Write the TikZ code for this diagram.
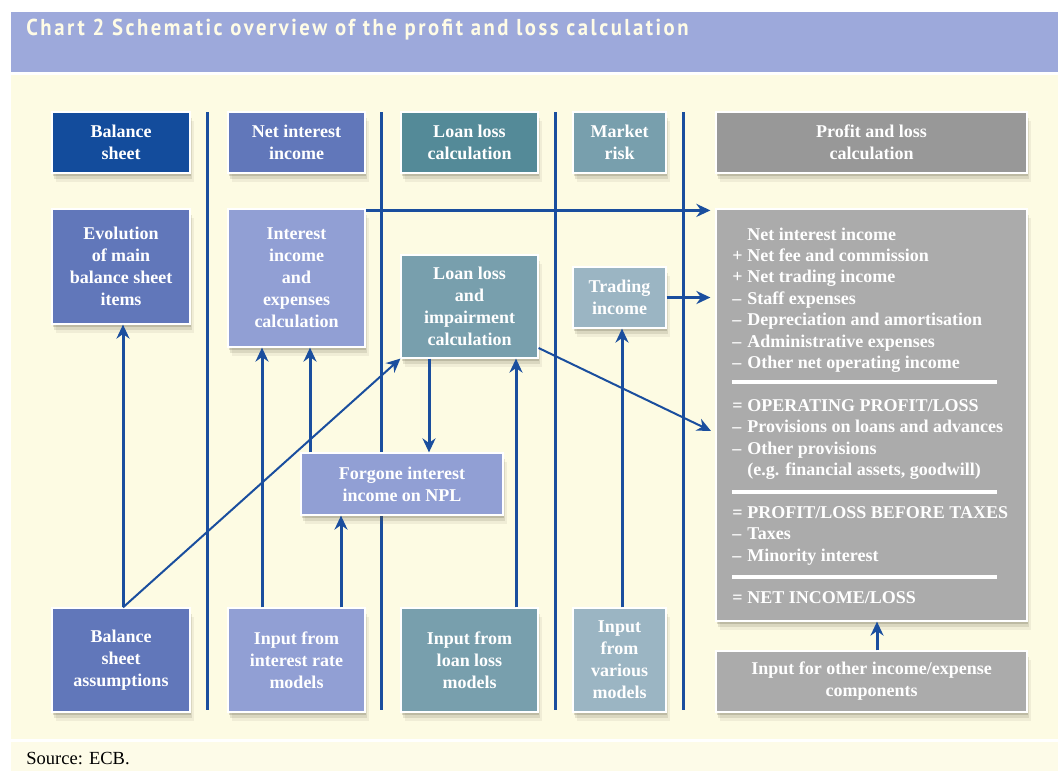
\documentclass[tikz,border=0pt]{standalone}
\usepackage{fontspec}
\setmainfont{Liberation Serif}
\newfontfamily\titlefont[FakeStretch=0.9,LetterSpace=11]{PT Sans}
\usetikzlibrary{shadows,arrows.meta}

\definecolor{ecbline}{HTML}{1A4E9E}
\definecolor{banner}{HTML}{9DA9DB}
\definecolor{cream}{HTML}{FDFBE3}
\definecolor{creamlight}{HTML}{FDFBE8}
\definecolor{titletext}{HTML}{FFFCE6}
\definecolor{bsdark}{HTML}{134C9C}
\definecolor{niimid}{HTML}{6177BA}
\definecolor{niilight}{HTML}{919FD4}
\definecolor{lldark}{HTML}{548A98}
\definecolor{llmid}{HTML}{789FAD}
\definecolor{mrlight}{HTML}{9BB5C3}
\definecolor{pldark}{HTML}{989898}
\definecolor{plmid}{HTML}{ABABAB}
\definecolor{shadowc}{HTML}{5A5540}

\tikzset{
  box/.style={draw=white, line width=0.6pt, text=white, align=center,
    font=\fontsize{9}{11}\selectfont\bfseries, inner sep=0pt,
    general shadow={fill=shadowc, opacity=.08, shadow xshift=2pt, shadow yshift=-4.5pt},
    general shadow={fill=shadowc, opacity=.14, shadow xshift=1.2pt, shadow yshift=-3pt},
    general shadow={fill=shadowc, opacity=.22, shadow xshift=0.5pt, shadow yshift=-1.5pt}},
  arr/.style={ecbline, line width=1.5pt, -{Stealth[length=7pt,width=6.5pt]}},
  col/.style={ecbline, line width=1.5pt},
  pltext/.style={text=white, inner sep=0pt, font=\fontsize{9}{11}\selectfont\bfseries},
}

\begin{document}
\begin{tikzpicture}[x=0.5pt,y=-0.5pt]
  \useasboundingbox (0,0) rectangle (1058,771);
  \fill[white] (0,0) rectangle (1058,771);
  \fill[banner] (11,12) rectangle (1058,72);
  \fill[cream] (11,75) rectangle (1058,739);
  \fill[creamlight] (11,742) rectangle (1058,771);

  % column separators
  \foreach \x in {207,381,555,683}
    \draw[col] (\x,112) -- (\x,710);

  \node[anchor=base west, inner sep=0pt, text=titletext,
    font=\titlefont\fontsize{11.5}{13}\selectfont\bfseries] (title) at (26,35)
    {Chart 2 Schematic overview of the profit and loss calculation};

  % headers
  \node[box, fill=bsdark, minimum width=69pt, minimum height=30.5pt] (bsh) at (121,142.5) {Balance\\sheet};
  \node[box, fill=niimid, minimum width=68.5pt, minimum height=30.5pt] (nih) at (296.5,142.5) {Net interest\\income};
  \node[box, fill=lldark, minimum width=68.5pt, minimum height=30.5pt] (llh) at (469.5,142.5) {Loan loss\\calculation};
  \node[box, fill=llmid, minimum width=46.5pt, minimum height=30.5pt] (mrh) at (619.5,142.5) {Market\\risk};
  \node[box, fill=pldark, minimum width=155.5pt, minimum height=30.5pt] (plh) at (871.5,142.5) {Profit and loss\\calculation};

  % calculation blocks
  \node[box, fill=niimid, minimum width=69pt, minimum height=57.5pt] (evo) at (121,266.5) {Evolution\\of main\\balance sheet\\items};
  \node[box, fill=niilight, minimum width=68.5pt, minimum height=69pt] (iie) at (296.5,278) {Interest\\income\\and\\expenses\\calculation};
  \node[box, fill=llmid, minimum width=68.5pt, minimum height=51.5pt] (lli) at (469.5,306.5) {Loan loss\\and\\impairment\\calculation};
  \node[box, fill=mrlight, minimum width=46.5pt, minimum height=30.5pt] (tri) at (619.5,297.5) {Trading\\income};
  \node[box, fill=plmid, minimum width=155.5pt, minimum height=206pt] (pnl) at (871.5,415) {};
  \node[box, fill=niilight, minimum width=101pt, minimum height=31pt] (fii) at (402,484) {Forgone interest\\income on NPL};

  % inputs
  \node[box, fill=niimid, minimum width=69pt, minimum height=52pt] (bsa) at (121,660) {Balance\\sheet\\assumptions};
  \node[box, fill=niilight, minimum width=68.5pt, minimum height=52pt] (irm) at (296.5,660) {Input from\\interest rate\\models};
  \node[box, fill=llmid, minimum width=68.5pt, minimum height=52pt] (ilm) at (469.5,660) {Input from\\loan loss\\models};
  \node[box, fill=mrlight, minimum width=46.5pt, minimum height=52pt] (ivm) at (619.5,660) {Input\\from\\various\\models};
  \node[box, fill=plmid, minimum width=155.5pt, minimum height=30.5pt] (ioc) at (871.5,681.5) {Input for other income/expense\\components};

  % profit and loss lines
  \foreach \r/\s/\t in {0//{Net interest income}, 1/+/{Net fee and commission},
      2/+/{Net trading income}, 3/--/{Staff expenses},
      4/--/{Depreciation and amortisation}, 5/--/{Administrative expenses},
      6/--/{Other net operating income}, 8/=/{OPERATING PROFIT/LOSS},
      9/--/{Provisions on loans and advances}, 10/--/{Other provisions},
      11//{(e.g. financial assets, goodwill)}, 13/=/{PROFIT/LOSS BEFORE TAXES},
      14/--/{Taxes}, 15/--/{Minority interest}, 17/=/{NET INCOME/LOSS}}
  {
    \node[pltext, anchor=base west] (ps\r) at (732,{240+21.41*\r}) {\s};
    \node[pltext, anchor=base west] (pl\r) at (747,{240+21.41*\r}) {\t};
  }
  \foreach \y in {382,492,577}
    \draw[white, line width=2pt] (732,\y) -- (997,\y);

  % connectors
  \draw[arr] ([xshift=1pt]bsa.north) -- ([xshift=1pt]evo.south);
  \draw[arr, line width=1pt] ([xshift=1pt]bsa.north) -- (lli.south west);
  \draw[arr] ([xshift=-17.25pt]irm.north) -- ([xshift=-17.25pt]iie.south);
  \draw[arr] ([xshift=6.75pt]iie.south |- fii.north) -- ([xshift=6.75pt]iie.south);
  \draw[arr] ([xshift=22.25pt]irm.north) -- ([xshift=22.25pt]irm.north |- fii.south);
  \draw[arr] ([xshift=-20.25pt]lli.south) -- ([xshift=-20.25pt]lli.south |- fii.north);
  \draw[arr] ([xshift=23.25pt]ilm.north) -- ([xshift=23.25pt]lli.south);
  \draw[arr] ([xshift=1.25pt]ivm.north) -- ([xshift=1.25pt]tri.south);
  \draw[arr, shorten >=2.5pt] (tri.east) -- (tri.east -| pnl.west);
  \draw[arr, line width=1.2pt, shorten >=2.5pt] ([yshift=-1pt]iie.north east) -- ([yshift=-1pt]iie.north east -| pnl.west);
  \draw[arr, line width=1pt, shorten >=2.5pt] ([yshift=-20.75pt]lli.east) -- ([yshift=-9pt]pnl.west);
  \draw[arr] ([xshift=2.75pt]ioc.north) -- ([xshift=2.75pt]pnl.south);

  \node[anchor=base west, inner sep=0pt, font=\fontsize{9.25}{11}\selectfont] (src) at (26,764) {Source: ECB.};
\end{tikzpicture}
\end{document}
